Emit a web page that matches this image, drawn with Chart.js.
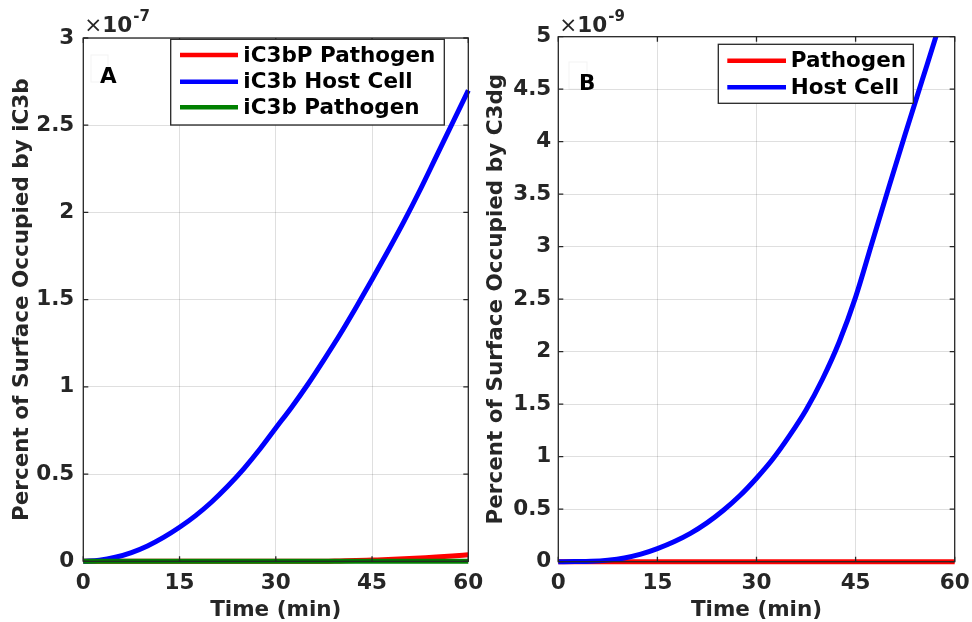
<!DOCTYPE html>
<html>
<head>
<meta charset="utf-8">
<script src="https://cdn.jsdelivr.net/npm/chart.js@4.4.1/dist/chart.umd.min.js"></script>
<style>
  html, body { margin: 0; padding: 0; background: #fff; }
  #wrap { position: relative; width: 972px; height: 622px; overflow: hidden; }
  canvas { position: absolute; top: 0; }
</style>
</head>
<body>
<div id="wrap">
  <canvas id="panelA" width="500" height="622" style="left:0;width:500px;height:622px"></canvas>
  <canvas id="panelB" width="492" height="622" style="left:480px;width:492px;height:622px"></canvas>
</div>
<script>
// time axis, minutes
var timeMin = [0, 2.5, 5, 7.5, 10, 12.5, 15, 17.5, 20, 22.5, 25, 27.5, 30,
               32.5, 35, 37.5, 40, 42.5, 45, 47.5, 50, 52.5, 55, 57.5, 60];
var xTicks = [0, 15, 30, 45, 60];

// panel A values, in units of 1e-7 (axis reads "x10^-7")
var iC3bPPathogen = [0, 0, 0, 0, 0, 0, 0, 0, 0, 0, 0, 0, 0,
                     0, 0, 0, 0.002, 0.004, 0.007, 0.010, 0.014, 0.019, 0.024, 0.030, 0.037];
var iC3bHostCell  = [0, 0.006, 0.023, 0.05, 0.088, 0.137, 0.195, 0.262, 0.34, 0.43, 0.53, 0.642, 0.764,
                     0.885, 1.015, 1.155, 1.30, 1.455, 1.615, 1.78, 1.95, 2.13, 2.32, 2.51, 2.70];
var iC3bPathogen  = [0, 0, 0, 0, 0, 0, 0, 0, 0, 0, 0, 0, 0,
                     0, 0, 0, 0, 0, 0, 0, 0, 0, 0, 0, 0];
var yTicksA = [0, 0.5, 1, 1.5, 2, 2.5, 3];

// panel B values, in units of 1e-9 (axis reads "x10^-9")
var c3dgPathogen = [0, 0, 0, 0, 0, 0, 0, 0, 0, 0, 0, 0, 0,
                    0, 0, 0, 0, 0, 0, 0, 0, 0, 0, 0, 0];
var c3dgHostCell = [0, 0.001, 0.004, 0.015, 0.036, 0.072, 0.125, 0.19, 0.27, 0.37, 0.49, 0.63, 0.795,
                    0.98, 1.2, 1.445, 1.74, 2.09, 2.52, 3.04, 3.56, 4.07, 4.57, 5.07, 5.6];
var yTicksB = [0, 0.5, 1, 1.5, 2, 2.5, 3, 3.5, 4, 4.5, 5];

var FONT = "'DejaVu Sans', 'Liberation Sans', sans-serif";
var FS = 21.5;
var AXIS_COL = '#262626';

Chart.defaults.font.family = FONT;
Chart.defaults.font.weight = 'bold';
Chart.defaults.font.size = FS;
Chart.defaults.color = AXIS_COL;

function pts(ys) {
  return ys.map(function (y, i) { return {x: timeMin[i], y: y}; });
}

//box, inner ticks, exponent, panel letter and legend (matlab look)
var matlabBits = {
  id: 'matlabBits',
  afterDatasetsDraw: function (chart, args, o) {
    var ctx = chart.ctx, a = chart.chartArea;
    var xs = chart.scales.x, ys = chart.scales.y;
    ctx.save();
    // frame
    ctx.strokeStyle = AXIS_COL;
    ctx.lineWidth = 1.3;
    ctx.strokeRect(a.left, a.top, a.right - a.left, a.bottom - a.top);
    // inner tick marks on all four sides
    ctx.beginPath();
    xTicks.forEach(function (t) {
      var px = xs.getPixelForValue(t);
      ctx.moveTo(px, a.bottom); ctx.lineTo(px, a.bottom - 5);
      ctx.moveTo(px, a.top); ctx.lineTo(px, a.top + 5);
    });
    o.yTicks.forEach(function (t) {
      var py = ys.getPixelForValue(t);
      ctx.moveTo(a.left, py); ctx.lineTo(a.left + 5, py);
      ctx.moveTo(a.right, py); ctx.lineTo(a.right - 5, py);
    });
    ctx.stroke();

    // exponent "x10^-n"
    ctx.fillStyle = AXIS_COL;
    ctx.textBaseline = 'alphabetic';
    ctx.textAlign = 'left';
    var ex = a.left + 1, ey = 32;
    ctx.font = 'normal ' + FS + 'px ' + FONT;
    ctx.fillText('\u00d7', ex, ey);
    ex += ctx.measureText('\u00d7').width;
    ctx.font = 'bold ' + FS + 'px ' + FONT;
    ctx.fillText('10', ex, ey);
    ex += ctx.measureText('10').width + 1;
    ctx.font = 'bold 15px ' + FONT;
    ctx.fillText(o.expo, ex, ey - 11);

    // panel letter with its faint box
    ctx.strokeStyle = 'rgba(0,0,0,0.05)';
    ctx.lineWidth = 1;
    ctx.strokeRect(o.letterBox[0], o.letterBox[1], o.letterBox[2], o.letterBox[3]);
    ctx.fillStyle = '#000';
    ctx.font = 'bold ' + FS + 'px ' + FONT;
    ctx.fillText(o.letter, o.letterPos[0], o.letterPos[1]);

    // legend
    var L = o.legend;
    ctx.fillStyle = '#fff';
    ctx.fillRect(L.x, L.y, L.w, L.h);
    ctx.strokeStyle = AXIS_COL;
    ctx.lineWidth = 1.3;
    ctx.strokeRect(L.x, L.y, L.w, L.h);
    ctx.textBaseline = 'middle';
    chart.data.datasets.forEach(function (ds) {
      var row = L.rows[ds.legendRow];
      ctx.strokeStyle = ds.borderColor;
      ctx.lineWidth = 4.5;
      ctx.beginPath();
      ctx.moveTo(L.lineX0, row); ctx.lineTo(L.lineX1, row);
      ctx.stroke();
      ctx.fillStyle = '#000';
      ctx.fillText(ds.label, L.textX, row + 1);
    });
    ctx.restore();
  }
};

function makePanel(id, datasets, cfg) {
  var clip = {left: 6, top: 0, right: 6, bottom: 6};
  datasets.forEach(function (d) {
    d.borderWidth = 5;
    d.pointRadius = 0;
    d.fill = false;
    d.cubicInterpolationMode = 'monotone';
    d.clip = clip;
  });
  return new Chart(document.getElementById(id), {
    type: 'line',
    data: {datasets: datasets},
    options: {
      responsive: false,
      animation: false,
      events: [],
      layout: {padding: cfg.padding},
      plugins: {
        legend: {display: false},
        tooltip: {enabled: false},
        matlabBits: cfg.bits
      },
      scales: {
        x: {
          type: 'linear', min: 0, max: 60,
          afterFit: function (s) { s.height = cfg.xH; s.paddingLeft = 0; s.paddingRight = 0; },
          afterBuildTicks: function (s) { s.ticks = xTicks.map(function (v) { return {value: v}; }); },
          grid: {color: 'rgba(38,38,38,0.15)', lineWidth: 1, drawTicks: false},
          border: {display: false},
          ticks: {padding: 9.3, maxRotation: 0, autoSkip: false},
          title: {display: true, text: 'Time (min)', padding: {top: 0, bottom: 0},
                  font: {size: FS, weight: 'bold', lineHeight: 1.1}}
        },
        y: {
          type: 'linear', min: 0, max: cfg.yMax,
          afterFit: function (s) { s.width = cfg.yW; s.paddingTop = 0; s.paddingBottom = 0; },
          afterBuildTicks: function (s) { s.ticks = cfg.bits.yTicks.map(function (v) { return {value: v}; }); },
          grid: {color: 'rgba(38,38,38,0.15)', lineWidth: 1, drawTicks: false},
          border: {display: false},
          ticks: {padding: cfg.yPad, autoSkip: false, callback: function (v) { return String(v); }},
          title: {display: true, text: cfg.yTitle, padding: {top: cfg.yTitlePad, bottom: 0},
                  font: {size: FS, weight: 'bold'}}
        }
      }
    },
    plugins: [matlabBits]
  });
}

// panel A (canvas is 500 wide so the "60" label is not cut)
makePanel('panelA', [
  {label: 'iC3bP Pathogen', data: pts(iC3bPPathogen), borderColor: '#ff0000', order: 2, legendRow: 0},
  {label: 'iC3b Host Cell', data: pts(iC3bHostCell), borderColor: '#0000ff', order: 1, legendRow: 1},
  {label: 'iC3b Pathogen', data: pts(iC3bPathogen), borderColor: '#008000', order: 0, legendRow: 2}
], {
  padding: {left: 0, top: 38, right: 31.7, bottom: 0},
  xH: 60.7, yW: 83.3, yMax: 3, yPad: 9, yTitlePad: 9.6,
  yTitle: 'Percent of Surface Occupied by iC3b',
  bits: {
    yTicks: yTicksA, expo: '-7', letter: 'A',
    letterPos: [100, 83], letterBox: [91, 55, 17, 27],
    legend: {x: 170.7, y: 39.3, w: 273.6, h: 85.7, lineX0: 180, lineX1: 238, textX: 243.3,
             rows: [55, 81.7, 107.3]}
  }
});

// panel B
makePanel('panelB', [
  {label: 'Pathogen', data: pts(c3dgPathogen), borderColor: '#ff0000', order: 1, legendRow: 0},
  {label: 'Host Cell', data: pts(c3dgHostCell), borderColor: '#0000ff', order: 0, legendRow: 1}
], {
  padding: {left: 0, top: 36.7, right: 17.3, bottom: 0},
  xH: 60.3, yW: 78.3, yMax: 5, yPad: 7, yTitlePad: 3.6,
  yTitle: 'Percent of Surface Occupied by C3dg',
  bits: {
    yTicks: yTicksB, expo: '-9', letter: 'B',
    letterPos: [99, 90], letterBox: [89, 62, 18, 27],
    legend: {x: 238.3, y: 44.3, w: 195, h: 59, lineX0: 247.3, lineX1: 306, textX: 310.7,
             rows: [60.7, 87.3]}
  }
});
</script>
</body>
</html>
